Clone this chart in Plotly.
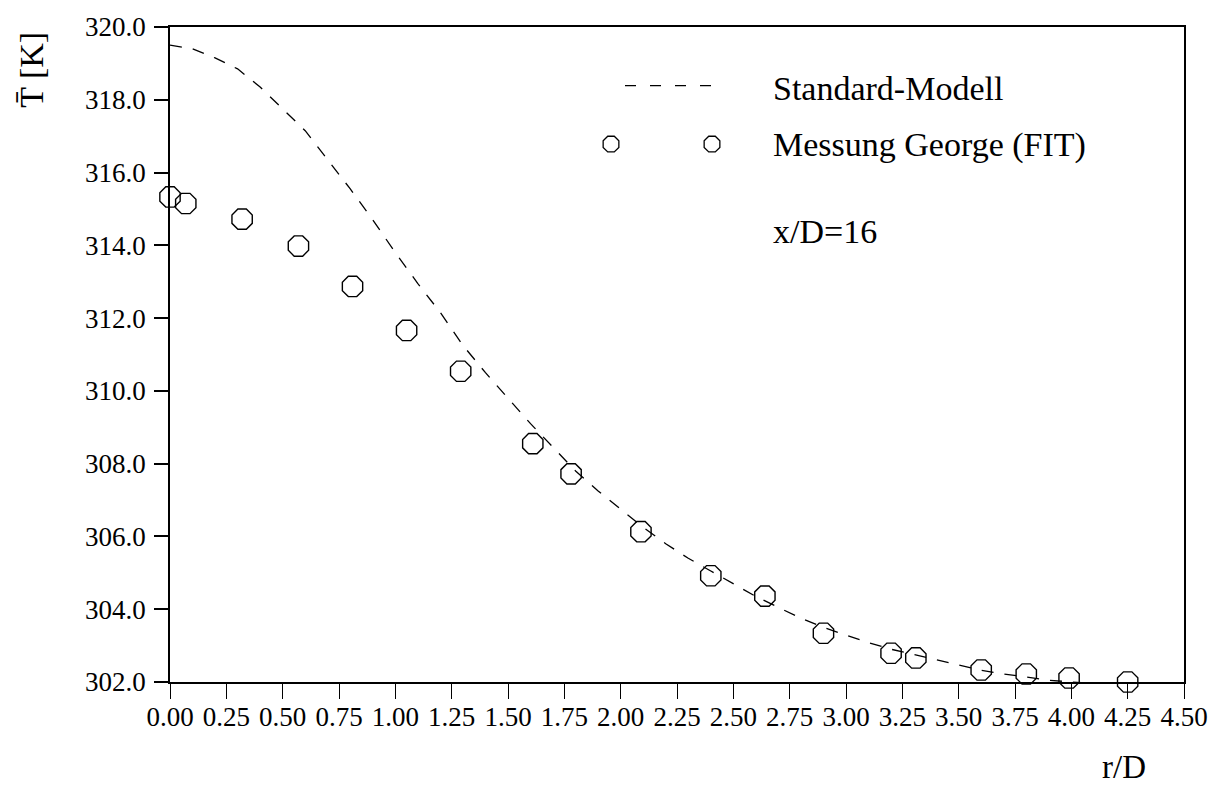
import plotly.graph_objects as go

# ---- data ----
r_model = [0.0, 0.1, 0.2, 0.3, 0.4, 0.5, 0.6, 0.7, 0.8, 0.9, 1.0, 1.1, 1.2, 1.3, 1.4,
           1.5, 1.6, 1.7, 1.8, 1.9, 2.0, 2.1, 2.2, 2.3, 2.4, 2.5, 2.6, 2.7, 2.8, 2.9,
           3.0, 3.1, 3.2, 3.3, 3.4, 3.5, 3.6, 3.7, 3.8, 3.9, 4.0, 4.1, 4.2, 4.3]
T_model = [319.50, 319.40, 319.15, 318.85, 318.35, 317.75, 317.15, 316.35, 315.55, 314.70,
           313.80, 312.95, 312.15, 311.25, 310.50, 309.80, 309.10, 308.45, 307.80, 307.25,
           306.75, 306.25, 305.80, 305.40, 305.05, 304.70, 304.35, 304.05, 303.75, 303.50,
           303.28, 303.08, 302.90, 302.75, 302.60, 302.45, 302.32, 302.22, 302.13, 302.05,
           302.00, 301.95, 301.92, 301.90]

r_meas = [0.00, 0.07, 0.32, 0.57, 0.81, 1.05, 1.29, 1.61, 1.78, 2.09, 2.40, 2.64,
          2.90, 3.20, 3.31, 3.60, 3.80, 3.99, 4.25]
T_meas = [315.33, 315.15, 314.72, 313.98, 312.87, 311.66, 310.54, 308.55, 307.72, 306.13,
          304.92, 304.36, 303.34, 302.79, 302.66, 302.33, 302.22, 302.11, 302.00]

x_ticks = [0.0, 0.25, 0.5, 0.75, 1.0, 1.25, 1.5, 1.75, 2.0, 2.25, 2.5, 2.75, 3.0, 3.25,
           3.5, 3.75, 4.0, 4.25, 4.5]
y_ticks = [302.0, 304.0, 306.0, 308.0, 310.0, 312.0, 314.0, 316.0, 318.0, 320.0]

labels = ["Standard-Modell", "Messung George (FIT)"]
note = "x/D=16"
x_title = "r/D"
y_title = "T\u0304 [K]"

FONT = "Liberation Serif"
W, H = 1227, 789
L, R, T, B = 170, 43, 22, 107

fig = go.Figure()

fig.add_trace(go.Scatter(
    x=r_model, y=T_model, mode="lines",
    line=dict(color="black", width=1.3, dash="12px,11px"),
    showlegend=False, hoverinfo="skip"))

fig.add_trace(go.Scatter(
    x=r_meas, y=T_meas, mode="markers",
    marker=dict(symbol="octagon-open", size=22, color="black",
                line=dict(color="black", width=1.4)),
    cliponaxis=False, showlegend=False))

# ---- hand-drawn legend on an overlay axis in plot-area pixel units ----
fig.add_trace(go.Scatter(
    x=[625, 713], y=[81, 81], mode="lines",
    line=dict(color="black", width=1.3, dash="11px,14px"),
    xaxis="x2", yaxis="y2", showlegend=False, hoverinfo="skip"))
fig.add_trace(go.Scatter(
    x=[611, 712], y=[140, 140], mode="markers",
    marker=dict(symbol="octagon-open", size=17, color="black",
                line=dict(color="black", width=1.3)),
    xaxis="x2", yaxis="y2", showlegend=False, hoverinfo="skip"))

fig.update_layout(
    width=W, height=H,
    margin=dict(l=L, r=R, t=T, b=B),
    paper_bgcolor="white", plot_bgcolor="white",
    font=dict(family=FONT, color="black", size=27),
    xaxis=dict(
        range=[0, 4.5], tickvals=x_ticks, tickformat=".2f",
        ticks="outside", ticklen=15, tickwidth=1.3, tickcolor="black",
        showline=True, linecolor="black", linewidth=1.6, mirror=True,
        showgrid=False, zeroline=False,
        tickfont=dict(family=FONT, size=27), ticklabelstandoff=-5),
    yaxis=dict(
        range=[302, 320], tickvals=y_ticks, tickformat=".1f",
        ticks="outside", ticklen=14, tickwidth=1.6, tickcolor="black",
        showline=True, linecolor="black", linewidth=1.6, mirror=True,
        showgrid=False, zeroline=False,
        tickfont=dict(family=FONT, size=27), ticklabelstandoff=3),
    xaxis2=dict(range=[L, W - R], overlaying="x", visible=False, fixedrange=True),
    yaxis2=dict(range=[H - B, T], overlaying="y", visible=False, fixedrange=True),
)

ann = [
    dict(text=labels[0], x=771, y=84),
    dict(text=labels[1], x=771, y=141),
    dict(text=note, x=771, y=228),
]
for a in ann:
    fig.add_annotation(text=a["text"], xref="x2", yref="y2", x=a["x"], y=a["y"],
                       xanchor="left", yanchor="middle", showarrow=False,
                       font=dict(family=FONT, size=34, color="black"))

fig.add_annotation(text=x_title, xref="paper", yref="paper",
                   x=(1124 - L) / (W - L - R), y=-(768 - (H - B)) / (H - T - B),
                   xanchor="center", yanchor="middle", showarrow=False,
                   font=dict(family=FONT, size=33, color="black"))
fig.add_annotation(text=y_title, xref="paper", yref="paper",
                   x=-(L - 32) / (W - L - R), y=1 - (65 - T) / (H - T - B),
                   xanchor="center", yanchor="middle", textangle=-90, showarrow=False,
                   font=dict(family=FONT, size=34, color="black"))

fig.write_html("out.html")
